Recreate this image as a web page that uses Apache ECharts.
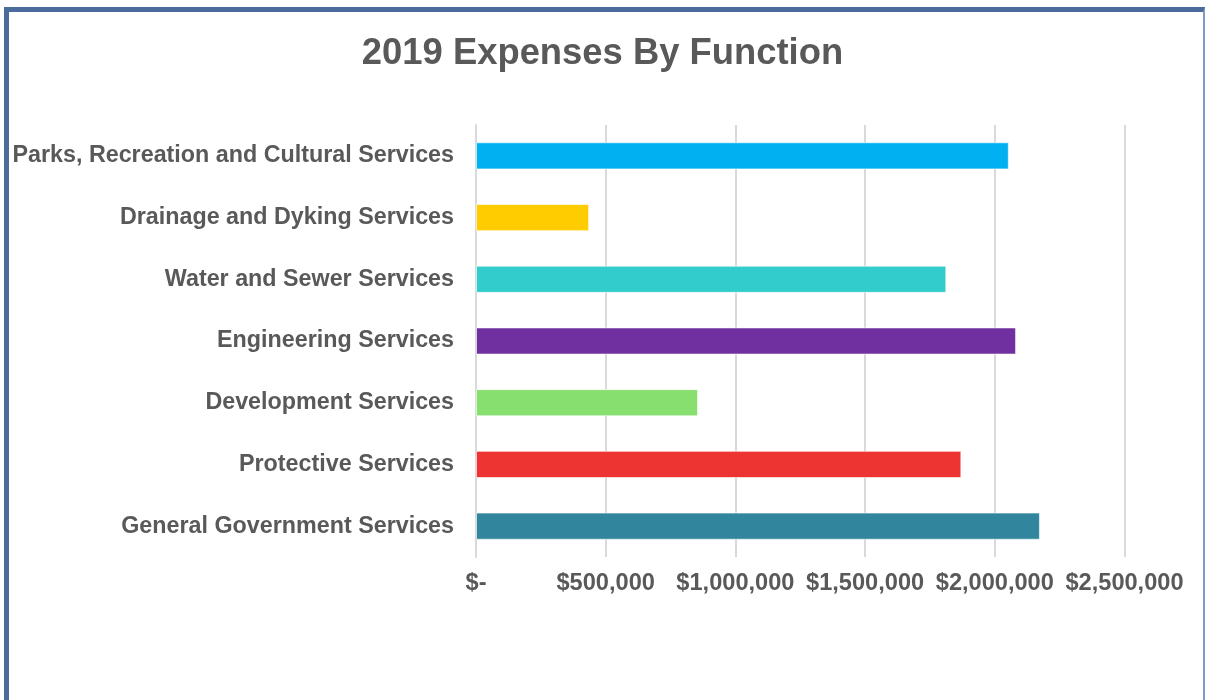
<!DOCTYPE html>
<html>
<head>
<meta charset="utf-8">
<script src="https://cdn.jsdelivr.net/npm/echarts@6/dist/echarts.min.js"></script>
<style>
  html, body { margin: 0; padding: 0; background: #fff; }
  #chart { position: absolute; left: 0; top: 0; width: 1205px; height: 700px; }
  #frame {
    position: absolute; left: 4px; top: 7px; width: 1201px; height: 700px;
    border-left: 5px solid #4a6b9c; border-top: 5px solid #4a6b9c;
    border-right: 2px solid #7f9cc6; box-sizing: border-box; pointer-events: none;
  }
</style>
</head>
<body>
<div id="chart"></div>
<div id="frame"></div>
<script>
// Expense functions, top to bottom
const categories = [
  'Parks, Recreation and Cultural Services',
  'Drainage and Dyking Services',
  'Water and Sewer Services',
  'Engineering Services',
  'Development Services',
  'Protective Services',
  'General Government Services'
];
// 2019 expenses in dollars
const expenses = [2054000, 436000, 1813000, 2082000, 856000, 1871000, 2174000];
const barColors = ['#00b0f0', '#ffcc00', '#33cccc', '#7030a0', '#86df6f', '#ee3333', '#31859c'];

const fontFamily = '"Liberation Sans", Arial, sans-serif';
const textColor = '#595959';

const chart = echarts.init(document.getElementById('chart'));
chart.setOption({
  animation: false,
  title: {
    text: '2019 Expenses By Function',
    left: 'center',
    top: 31,
    textStyle: { fontFamily, fontSize: 36.4, fontWeight: 'bold', color: textColor }
  },
  grid: { left: 476, right: 80.5, top: 125, bottom: 143, containLabel: false },
  xAxis: {
    type: 'value',
    min: 0,
    max: 2500000,
    interval: 500000,
    axisLine: { show: false },
    axisTick: { show: false },
    splitLine: { lineStyle: { color: '#d9d9d9', width: 2 } },
    axisLabel: {
      margin: 14,
      fontFamily, fontSize: 23.6, fontWeight: 'bold', color: textColor,
      formatter: v => v === 0 ? '$-' : '$' + v.toLocaleString('en-US')
    }
  },
  yAxis: {
    type: 'category',
    inverse: true,
    data: categories,
    axisLine: { lineStyle: { color: '#d9d9d9', width: 2 } },
    axisTick: { length: 5, lineStyle: { color: '#d9d9d9', width: 2 } },
    axisLabel: { margin: 22, fontFamily, fontSize: 23.3, fontWeight: 'bold', color: textColor }
  },
  series: [{
    type: 'bar',
    barWidth: '44%',
    data: expenses.map((v, i) => ({ value: v, itemStyle: { color: barColors[i] } })),
    itemStyle: { borderColor: 'rgba(255,255,255,0.6)', borderWidth: 1 }
  }]
});
</script>
</body>
</html>
